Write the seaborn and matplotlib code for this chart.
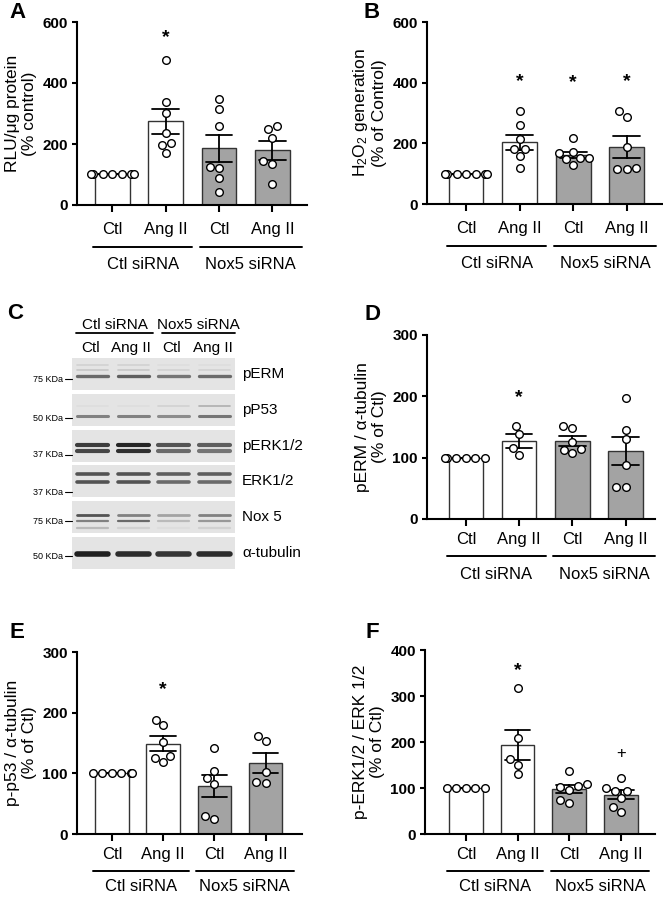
import warnings
import numpy as np
import pandas as pd
import matplotlib
matplotlib.use('Agg')
import matplotlib.pyplot as plt
import matplotlib.transforms as mtransforms
from matplotlib.patches import Rectangle
import seaborn as sns

warnings.filterwarnings('ignore')

# categories shared by all bar panels
groups = ['Ctl siRNA|Ctl', 'Ctl siRNA|Ang II', 'Nox5 siRNA|Ctl', 'Nox5 siRNA|Ang II']
tick_labels = ['Ctl', 'Ang II', 'Ctl', 'Ang II']
group_labels = ['Ctl siRNA', 'Nox5 siRNA']
bar_colors = ['white', 'white', '#a3a3a3', '#a3a3a3']

# A - RLU/ug protein (% control)
a_ctl = [100, 100, 100, 100, 100, 100, 100]
a_ang = [477, 338, 302, 237, 204, 196, 169]
a_nox_ctl = [349, 316, 260, 123, 120, 87, 44]
a_nox_ang = [248, 259, 221, 145, 136, 69]

# B - H2O2 generation (% of Control)
b_ctl = [100, 100, 100, 100, 100, 100, 100]
b_ang = [307, 261, 214, 181, 181, 157, 120]
b_nox_ctl = [217, 167, 153, 172, 147, 151, 129]
b_nox_ang = [288, 307, 187, 114, 118, 114]

# D - pERM / a-tubulin (% of Ctl)
d_ctl = [100, 100, 100, 100, 100, 100]
d_ang = [152, 138, 104, 115]
d_nox_ctl = [149, 152, 126, 114, 113, 107]
d_nox_ang = [197, 145, 130, 88, 52, 52]

# E - p-p53 / a-tubulin (% of Ctl)
e_ctl = [100, 100, 100, 100, 100, 100]
e_ang = [188, 179, 152, 119, 129, 126]
e_nox_ctl = [142, 104, 92, 82, 25, 29]
e_nox_ang = [162, 154, 102, 84, 85]

# F - p-ERK1/2 / ERK 1/2 (% of Ctl)
f_ctl = [100, 100, 100, 100, 100]
f_ang = [317, 208, 163, 150, 130]
f_nox_ctl = [138, 102, 96, 104, 109, 68, 74]
f_nox_ang = [121, 94, 94, 101, 79, 47, 59]

# significance marks: (bar index, y value, symbol)
a_marks = [(1, 549, '*')]
b_marks = [(1, 403, '*'), (2, 400, '*'), (3, 403, '*')]
d_marks = [(1, 198, '*')]
e_marks = [(1, 238, '*')]
f_marks = [(1, 355, '*'), (3, 174, '+')]

# C - western blot
blot_rows = ['pERM', 'pP53', 'pERK1/2', 'ERK1/2', 'Nox 5', 'α-tubulin']
blot_kda = ['75 KDa', '50 KDa', '37 KDa', '37 KDa', '75 KDa', '50 KDa']
blot_kda_pos = [0.66, 0.76, 0.78, 0.84, 0.62, 0.60]
blot_lanes = ['Ctl', 'Ang II', 'Ctl', 'Ang II']
band_row = [0, 0, 0, 1, 1, 2, 2, 3, 3, 4, 4, 4, 5]
band_pos = [0.22, 0.38, 0.58, 0.38, 0.69, 0.47, 0.68, 0.26, 0.52, 0.42, 0.62, 0.83, 0.54]
band_width = [1.2, 1.2, 2.4, 1.2, 2.2, 3.0, 3.0, 2.6, 2.6, 2.0, 1.6, 1.6, 4.0]
band_strength = [
    [0.20, 0.20, 0.15, 0.15],
    [0.25, 0.25, 0.20, 0.20],
    [0.65, 0.70, 0.60, 0.65],
    [0.15, 0.15, 0.20, 0.35],
    [0.55, 0.55, 0.50, 0.60],
    [0.85, 0.95, 0.75, 0.70],
    [0.80, 0.90, 0.65, 0.60],
    [0.75, 0.75, 0.70, 0.70],
    [0.75, 0.75, 0.65, 0.65],
    [0.75, 0.55, 0.40, 0.55],
    [0.55, 0.65, 0.30, 0.45],
    [0.30, 0.20, 0.15, 0.20],
    [0.97, 0.92, 0.88, 0.92],
]

W, H = 663, 897

sns.set_theme(style='ticks')
plt.rcParams['font.family'] = ['Liberation Sans', 'DejaVu Sans']
plt.rcParams['mathtext.default'] = 'regular'
for key in ['text.color', 'axes.labelcolor', 'axes.edgecolor', 'xtick.color', 'ytick.color']:
    plt.rcParams[key] = 'black'

fig = plt.figure(figsize=(W / 100, H / 100), dpi=100)


def px_rect(left, top, right, bottom):
    return [left / W, 1 - bottom / H, (right - left) / W, (bottom - top) / H]


def bar_panel(rect, values, ylim, yticks, ylabel, xlim, marks, tick_pad=7.5, line_off=30, text_off=43):
    ax = fig.add_axes(rect)
    df = pd.DataFrame({
        'group': np.repeat(groups, [len(v) for v in values]),
        'value': np.concatenate(values),
    })
    sns.barplot(data=df, x='group', y='value', hue='group', order=groups, hue_order=groups,
                palette=bar_colors, saturation=1, width=0.65, errorbar='se', capsize=0.5,
                err_kws={'color': 'black', 'linewidth': 1.3}, edgecolor='#333333',
                linewidth=1.0, legend=False, ax=ax)
    sns.swarmplot(data=df, x='group', y='value', order=groups, color='white',
                  edgecolor='black', linewidth=1.0, size=5.5, zorder=3, ax=ax)

    ax.set_xlim(*xlim)
    ax.set_ylim(*ylim)
    ax.set_yticks(yticks)
    ax.set_yticklabels([str(t) for t in yticks], fontweight='bold', fontsize=11)
    ax.set_xticks(range(len(groups)))
    ax.set_xticklabels(tick_labels, fontsize=12)
    ax.set_xlabel('')
    ax.set_ylabel(ylabel, fontsize=12.5, labelpad=4, linespacing=1.15)
    sns.despine(ax=ax)
    for s in ['left', 'bottom']:
        ax.spines[s].set_linewidth(1.5)
    ax.tick_params(axis='x', length=5, width=1.5, pad=tick_pad)
    ax.tick_params(axis='y', length=3.6, width=1.5, pad=3)

    for i, y, sym in marks:
        if sym == '*':
            ax.text(i, y, sym, ha='center', va='center', fontsize=14, fontweight='bold')
        else:
            ax.text(i, y, sym, ha='center', va='center', fontsize=12)

    # group brackets under the tick labels
    line_tr = mtransforms.offset_copy(ax.get_xaxis_transform(), fig=fig, y=-line_off, units='points')
    text_tr = mtransforms.offset_copy(ax.get_xaxis_transform(), fig=fig, y=-text_off, units='points')
    for (x0, x1), lab in zip([(-0.36, 1.5), (1.64, 3.55)], group_labels):
        ax.plot([x0, x1], [0, 0], color='black', lw=1.4, transform=line_tr, clip_on=False)
        ax.text((x0 + x1) / 2, 0, lab, ha='center', va='center', fontsize=12,
                transform=text_tr)
    return ax


bar_panel(px_rect(77, 22, 307, 205), [a_ctl, a_ang, a_nox_ctl, a_nox_ang],
          (0, 600), [0, 200, 400, 600], 'RLU/μg protein\n(% control)', (-0.66, 3.65), a_marks)
bar_panel(px_rect(427, 22, 662, 204), [b_ctl, b_ang, b_nox_ctl, b_nox_ang],
          (0, 600), [0, 200, 400, 600], 'H$_2$O$_2$ generation\n(% of Control)',
          (-0.73, 3.66), b_marks)
bar_panel(px_rect(427, 335, 655, 519), [d_ctl, d_ang, d_nox_ctl, d_nox_ang],
          (0, 300), [0, 100, 200, 300], 'pERM / α-tubulin\n(% of Ctl)', (-0.73, 3.55), d_marks,
          tick_pad=4.5, line_off=26.5, text_off=40)
bar_panel(px_rect(77, 652, 302, 834), [e_ctl, e_ang, e_nox_ctl, e_nox_ang],
          (0, 300), [0, 100, 200, 300], 'p-p53 / α-tubulin\n(% of Ctl)', (-0.68, 3.71), e_marks,
          tick_pad=4.5, line_off=26.5, text_off=38)
bar_panel(px_rect(425, 650, 655, 834), [f_ctl, f_ang, f_nox_ctl, f_nox_ang],
          (0, 400), [0, 100, 200, 300, 400], 'p-ERK1/2 / ERK 1/2\n(% of Ctl)',
          (-0.79, 3.66), f_marks, tick_pad=4.5, line_off=26.5, text_off=38)

# panel C: blot strips
axc = fig.add_axes(px_rect(72, 358, 235, 569))
axc.set_xlim(0, 4)
axc.set_ylim(5.89, 0)
axc.axis('off')
strip_h = 0.89
for i, name in enumerate(blot_rows):
    axc.add_patch(Rectangle((0, i), 4, strip_h, facecolor='#e4e4e4', edgecolor='none'))
    axc.text(4.17, i + strip_h / 2, name, ha='left', va='center', fontsize=11)
    yk = i + blot_kda_pos[i] * strip_h
    axc.text(-0.22, yk, blot_kda[i], ha='right', va='center', fontsize=6.5)
    axc.plot([-0.17, -0.01], [yk, yk], color='black', lw=0.8, clip_on=False)
for r, p, w, strengths in zip(band_row, band_pos, band_width, band_strength):
    y = r + p * strip_h
    for lane, s in enumerate(strengths):
        axc.plot([lane + 0.12, lane + 0.88], [y, y], color=str(1 - 0.9 * s), lw=w,
                 solid_capstyle='round')
for lane, lab in enumerate(blot_lanes):
    axc.text(lane + 0.45, -0.28, lab, ha='center', va='center', fontsize=11, clip_on=False)
for (x0, x1), lab in zip([(0.1, 1.99), (2.21, 4.0)], group_labels):
    axc.plot([x0, x1], [-0.70, -0.70], color='black', lw=1.3, clip_on=False)
    axc.text((x0 + x1) / 2, -0.93, lab, ha='center', va='center', fontsize=11, clip_on=False)

# panel letters
for lab, (x, y) in zip('ABCDEF', [(17, 12), (372, 12), (15, 313), (373, 315), (17, 633), (372, 633)]):
    fig.text(x / W, 1 - y / H, lab, ha='center', va='center', fontsize=16, fontweight='bold')

fig.savefig('out.png', dpi=100, facecolor='white')
